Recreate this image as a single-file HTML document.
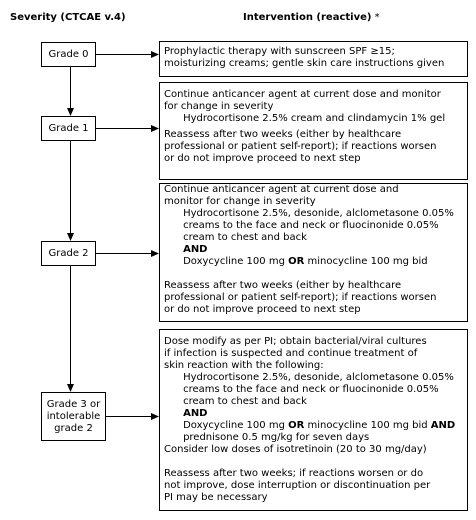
<!DOCTYPE html>
<html><head><style>
body{margin:0;width:476px;height:520px;background:#fff;position:relative;font-family:"DejaVu Sans","Liberation Sans",sans-serif;font-size:10px;color:#000;overflow:hidden}
.a{position:absolute;white-space:pre;line-height:12px}
.b{position:absolute;border:1px solid #000;box-sizing:border-box}
.g{position:absolute;border:1px solid #000;box-sizing:border-box;display:flex;align-items:center;justify-content:center;text-align:center;line-height:12px}
b{font-weight:bold}
</style></head><body>
<div class="a" style="left:10px;top:12px"><b>Severity (CTCAE v.4)</b></div>
<div class="a" style="left:243px;top:12px"><b>Intervention (reactive)</b> *</div>

<svg style="position:absolute;left:0;top:0" width="476" height="520">
<g stroke="#000" stroke-width="1" fill="none">
<line x1="95" y1="54.5" x2="155" y2="54.5"/>
<line x1="95" y1="128.5" x2="155" y2="128.5"/>
<line x1="95" y1="253.5" x2="155" y2="253.5"/>
<line x1="105" y1="416.5" x2="155" y2="416.5"/>
<line x1="70.5" y1="66" x2="70.5" y2="112"/>
<line x1="70.5" y1="140" x2="70.5" y2="237"/>
<line x1="70.5" y1="265" x2="70.5" y2="388"/>
</g>
<g fill="#000">
<polygon points="159,54.5 151,51 151,58"/>
<polygon points="159,128.5 151,125 151,132"/>
<polygon points="159,253.5 151,250 151,257"/>
<polygon points="159,416.5 151,413 151,420"/>
<polygon points="70.5,116 67,108 74,108"/>
<polygon points="70.5,241 67,233 74,233"/>
<polygon points="70.5,392 67,384 74,384"/>
</g>
</svg>

<div class="g" style="left:41px;top:42px;width:55px;height:25px">Grade 0</div>
<div class="g" style="left:41px;top:116px;width:55px;height:25px">Grade 1</div>
<div class="g" style="left:41px;top:241px;width:55px;height:25px">Grade 2</div>
<div class="g" style="left:41px;top:392px;width:65px;height:49px">Grade 3 or<br>intolerable<br>grade 2</div>

<div class="b" style="left:159px;top:41px;width:309px;height:36px"></div>
<div class="a" style="left:164px;top:46px">Prophylactic therapy with sunscreen SPF ≥15;
moisturizing creams; gentle skin care instructions given</div>

<div class="b" style="left:159px;top:82px;width:309px;height:98px"></div>
<div class="a" style="left:164px;top:89px">Continue anticancer agent at current dose and monitor
for change in severity
      Hydrocortisone 2.5% cream and clindamycin 1% gel</div>
<div class="a" style="left:164px;top:129px">Reassess after two weeks (either by healthcare
professional or patient self-report); if reactions worsen
or do not improve proceed to next step</div>

<div class="b" style="left:159px;top:183px;width:309px;height:139px"></div>
<div class="a" style="left:164px;top:184px">Continue anticancer agent at current dose and
monitor for change in severity
      Hydrocortisone 2.5%, desonide, alclometasone 0.05%
      creams to the face and neck or fluocinonide 0.05%
      cream to chest and back
      <b>AND</b>
      Doxycycline 100 mg <b>OR</b> minocycline 100 mg bid</div>
<div class="a" style="left:164px;top:280px">Reassess after two weeks (either by healthcare
professional or patient self-report); if reactions worsen
or do not improve proceed to next step</div>

<div class="b" style="left:159px;top:329px;width:309px;height:182px"></div>
<div class="a" style="left:164px;top:336px">Dose modify as per PI; obtain bacterial/viral cultures
if infection is suspected and continue treatment of
skin reaction with the following:
      Hydrocortisone 2.5%, desonide, alclometasone 0.05%
      creams to the face and neck or fluocinonide 0.05%
      cream to chest and back
      <b>AND</b>
      Doxycycline 100 mg <b>OR</b> minocycline 100 mg bid <b>AND</b>
      prednisone 0.5 mg/kg for seven days
Consider low doses of isotretinoin (20 to 30 mg/day)</div>
<div class="a" style="left:164px;top:468px">Reassess after two weeks; if reactions worsen or do
not improve, dose interruption or discontinuation per
PI may be necessary</div>
</body></html>
